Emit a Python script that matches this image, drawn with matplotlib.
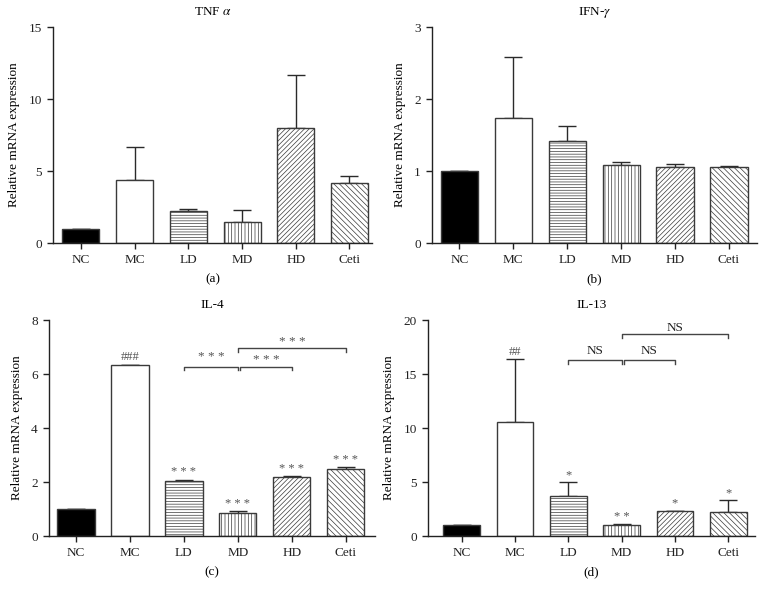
import numpy as np
import matplotlib
matplotlib.use("Agg")
import matplotlib.pyplot as plt

plt.rcParams['font.family'] = ['Liberation Serif', 'DejaVu Serif']
plt.rcParams['mathtext.fontset'] = 'stix'
plt.rcParams['font.size'] = 9.5
plt.rcParams['hatch.linewidth'] = 0.5

# data
groups = ['NC', 'MC', 'LD', 'MD', 'HD', 'Ceti']

tnf_mean = [1.0, 4.4, 2.25, 1.45, 8.0, 4.15]
tnf_err = [0.0, 2.3, 0.1, 0.85, 3.68, 0.48]

ifn_mean = [1.0, 1.73, 1.42, 1.09, 1.06, 1.05]
ifn_err = [0.0, 0.85, 0.2, 0.03, 0.04, 0.025]

il4_mean = [1.0, 6.33, 2.02, 0.85, 2.18, 2.5]
il4_err = [0.0, 0.01, 0.07, 0.07, 0.03, 0.04]
il4_marks = ['', '###', '* * *', '* * *', '* * *', '* * *']
il4_pairs = [(2, 3, 6.27, 6.64, '* * *'), (3, 4, 6.27, 6.52, '* * *'), (3, 5, 6.95, 7.2, '* * *')]

il13_mean = [1.0, 10.6, 3.67, 1.02, 2.31, 2.25]
il13_err = [0.0, 5.8, 1.3, 0.08, 0.03, 1.05]
il13_marks = ['', '##', '*', '* *', '*', '*']
il13_pairs = [(2, 3, 16.3, 17.1, 'NS'), (3, 4, 16.3, 17.1, 'NS'), (3, 5, 18.67, 19.3, 'NS')]

fills = ['black', 'white', 'white', 'white', 'white', 'white']
hatches = [None, None, '------', '|||||', '///////', '\\\\\\\\\\\\']
edge = '#3a3a3a'


def draw_panel(ax, mean, err, ymax, yticks, title, letter, xlim):
    x = np.arange(len(groups))
    for i in range(len(groups)):
        ax.bar(x[i], mean[i], width=0.69, color=fills[i], edgecolor=edge,
               hatch=hatches[i], linewidth=1.0, zorder=2)
    lower = np.zeros(len(groups))
    ax.errorbar(x, mean, yerr=[lower, err], fmt='none', ecolor='#2a2a2a',
                elinewidth=1.0, capsize=6.5, capthick=1.0, zorder=1)
    ax.set_xlim(*xlim)
    ax.set_ylim(0, ymax)
    ax.set_yticks(yticks)
    ax.set_xticks(x)
    ax.set_xticklabels(groups)
    ax.spines['top'].set_visible(False)
    ax.spines['right'].set_visible(False)
    for s in ['left', 'bottom']:
        ax.spines[s].set_linewidth(1.0)
        ax.spines[s].set_color('#222222')
    ax.tick_params(direction='out', length=4, width=1.0, pad=4, colors='#222222')
    ax.set_ylabel('Relative mRNA expression', labelpad=6)
    ax.set_title(title, pad=9, fontsize=9.5)
    ax.set_xlabel(letter, labelpad=5)


def add_marks(ax, mean, err, marks):
    for i, m in enumerate(marks):
        if m:
            ax.annotate(m, (i, mean[i] + err[i]), xytext=(0, 1), textcoords='offset points',
                        ha='center', va='bottom', fontsize=9, color='#555555')


def add_pairs(ax, pairs, drop, txtcolor):
    for a, b, y, ty, lab in pairs:
        a0 = a
        if a == 3 and b == 4:
            a0 = a + 0.04
        ax.plot([a0, a0, b, b], [y - drop, y, y, y - drop], color='#444444', lw=1.0,
                clip_on=False)
        ax.text((a0 + b) / 2, ty, lab, ha='center', va='center', fontsize=9.5, color=txtcolor)


fig = plt.figure(figsize=(7.64, 6.02), dpi=100)
ax_a = fig.add_axes([0.0694, 0.5963, 0.4175, 0.3588])
ax_b = fig.add_axes([0.5654, 0.5963, 0.4254, 0.3588])
ax_c = fig.add_axes([0.0641, 0.1096, 0.4267, 0.3588])
ax_d = fig.add_axes([0.5602, 0.1096, 0.4280, 0.3588])

draw_panel(ax_a, tnf_mean, tnf_err, 15, [0, 5, 10, 15], r'TNF $\alpha$', '(a)', (-0.52, 5.42))
draw_panel(ax_b, ifn_mean, ifn_err, 3, [0, 1, 2, 3], r'IFN-$\gamma$', '(b)', (-0.51, 5.52))
draw_panel(ax_c, il4_mean, il4_err, 8, [0, 2, 4, 6, 8], 'IL-4', '(c)', (-0.5, 5.54))
draw_panel(ax_d, il13_mean, il13_err, 20, [0, 5, 10, 15, 20], 'IL-13', '(d)', (-0.63, 5.5))

add_marks(ax_c, il4_mean, il4_err, il4_marks)
add_marks(ax_d, il13_mean, il13_err, il13_marks)
add_pairs(ax_c, il4_pairs, 0.12, '#555555')
add_pairs(ax_d, il13_pairs, 0.35, '#222222')

fig.savefig('out.png', dpi=100)
